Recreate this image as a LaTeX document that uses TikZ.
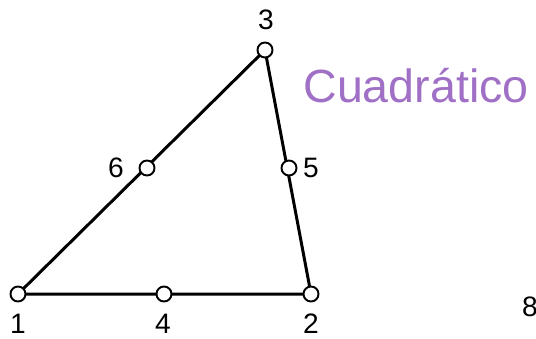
\documentclass[tikz,border=0pt]{standalone}
\usepackage{fontspec}
\setmainfont{Liberation Sans}
\definecolor{lila}{RGB}{160,112,198}

\begin{document}
\begin{tikzpicture}[x=0.02cm, y=-0.02cm, line width=1.7pt,
    nodo/.style={circle, draw, fill=white, line width=1.1pt, inner sep=0pt, minimum size=0.3cm},
    num/.style={font=\fontsize{16}{16}\selectfont}]
    % marco
    \useasboundingbox (0, 0) rectangle (536, 338);

    % nodos del elemento
    \coordinate (n1) at (18, 294);
    \coordinate (n2) at (311, 294);
    \coordinate (n3) at (265, 50);
    \coordinate (n4) at (164, 294);
    \coordinate (n5) at (289, 168);
    \coordinate (n6) at (147, 168);

    % lados
    \draw (n1) -- (n2) -- (n3) -- cycle;

    % círculos
    \foreach \k in {1, ..., 6} {
        \node[nodo] (c\k) at (n\k) {};
    }

    % etiquetas
    \node[num] (t1) at (18, 324) {1};
    \node[num] (t2) at (311, 324) {2};
    \node[num] (t3) at (266, 20) {3};
    \node[num] (t4) at (163, 324) {4};
    \node[num] (t5) at (311, 168) {5};
    \node[num] (t6) at (116, 168) {6};

    % título
    \node[text=lila, font=\fontsize{26.5}{26.5}\selectfont] (tit) at (416, 86) {Cuadrático};

    % número de página
    \node[num] (pag) at (530, 307) {8};
\end{tikzpicture}
\end{document}
